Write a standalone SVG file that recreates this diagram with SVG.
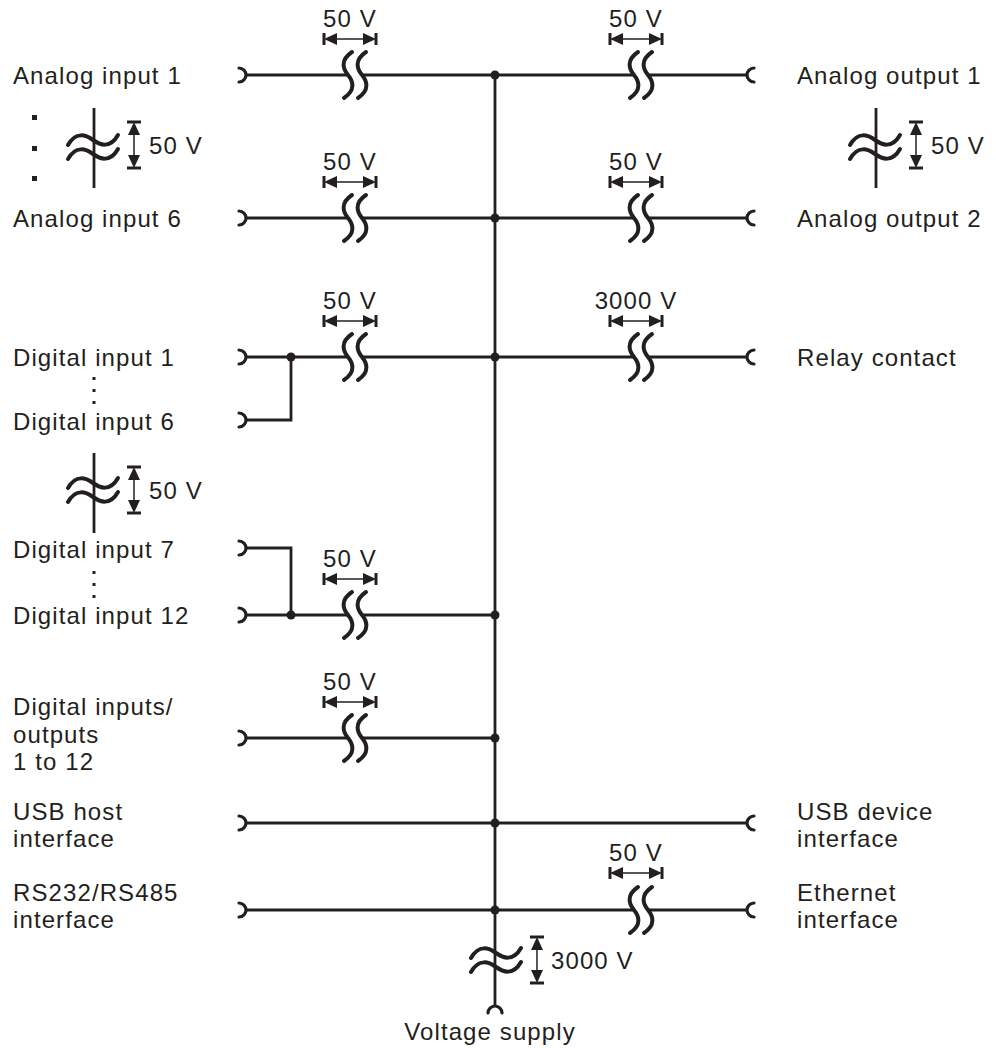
<svg xmlns="http://www.w3.org/2000/svg" width="996" height="1048" viewBox="0 0 996 1048">
<style>
.t{font-family:"Liberation Sans",Arial,sans-serif;font-size:24px;letter-spacing:1.1px;fill:#231f20}
.w{fill:none;stroke:#231f20;stroke-width:2.8}
.c{fill:none;stroke:#231f20;stroke-width:3.2;stroke-linecap:round}
.iso{fill:none;stroke:#231f20;stroke-width:4;stroke-linecap:round}
.d{fill:none;stroke:#231f20;stroke-width:1.5}
.bar{fill:none;stroke:#231f20;stroke-width:3}
.dot{fill:#231f20}
</style>
<defs>
<path id="wv" class="iso" d="M4,-23 C-8,-15 -5,-6 0,0 C5,6 8,15 -4,23"/>
<path id="tl" class="iso" d="M-25,5 C-17,-9 -7,-5 0,0 C7,5 17,9 25,-5"/>
<g id="hiso"><use href="#wv" x="-2"/><use href="#wv" x="12"/></g>
<g id="vtil"><use href="#tl" y="-7"/><use href="#tl" y="7"/></g>
<g id="hdim">
<line class="d" x1="-20" y1="0" x2="20" y2="0"/>
<line class="bar" x1="-26" y1="-6" x2="-26" y2="6"/>
<line class="bar" x1="26" y1="-6" x2="26" y2="6"/>
<polygon class="dot" points="-26,0 -13,-6 -13,6"/>
<polygon class="dot" points="26,0 13,-6 13,6"/>
</g>
<g id="vdim">
<line class="d" x1="0" y1="-18" x2="0" y2="18"/>
<line class="bar" x1="-7" y1="-23" x2="7" y2="-23"/>
<line class="bar" x1="-7" y1="23" x2="7" y2="23"/>
<polygon class="dot" points="0,-23 -6,-10 6,-10"/>
<polygon class="dot" points="0,23 -6,10 6,10"/>
</g>
<path id="tL" class="c" d="M-7,-7 A7,7 0 0 1 -7,7"/>
<path id="tR" class="c" d="M7,-7 A7,7 0 0 0 7,7"/>
</defs>

<g id="connectors">
<line class="w" x1="495" y1="75" x2="495" y2="1006"/>
<line class="w" x1="246" y1="75" x2="348" y2="75"/>
<line class="w" x1="362" y1="75" x2="634" y2="75"/>
<line class="w" x1="648" y1="75" x2="747" y2="75"/>
<line class="w" x1="246" y1="218" x2="348" y2="218"/>
<line class="w" x1="362" y1="218" x2="634" y2="218"/>
<line class="w" x1="648" y1="218" x2="747" y2="218"/>
<line class="w" x1="246" y1="357" x2="348" y2="357"/>
<line class="w" x1="362" y1="357" x2="634" y2="357"/>
<line class="w" x1="648" y1="357" x2="747" y2="357"/>
<polyline class="w" points="246,420 291,420 291,357"/>
<line class="w" x1="246" y1="615" x2="348" y2="615"/>
<line class="w" x1="362" y1="615" x2="495" y2="615"/>
<polyline class="w" points="246,548 291,548 291,615"/>
<line class="w" x1="246" y1="738" x2="348" y2="738"/>
<line class="w" x1="362" y1="738" x2="495" y2="738"/>
<line class="w" x1="246" y1="823" x2="747" y2="823"/>
<line class="w" x1="246" y1="910" x2="634" y2="910"/>
<line class="w" x1="648" y1="910" x2="747" y2="910"/>
<circle class="dot" cx="495" cy="75" r="4.5"/>
<circle class="dot" cx="495" cy="218" r="4.5"/>
<circle class="dot" cx="495" cy="357" r="4.5"/>
<circle class="dot" cx="495" cy="615" r="4.5"/>
<circle class="dot" cx="495" cy="738" r="4.5"/>
<circle class="dot" cx="495" cy="823" r="4.5"/>
<circle class="dot" cx="495" cy="910" r="4.5"/>
<circle class="dot" cx="291" cy="357" r="4.5"/>
<circle class="dot" cx="291" cy="615" r="4.5"/>
</g>

<g id="isolations">
<use href="#hiso" x="350" y="75"/><use href="#hdim" x="350" y="39"/><text class="t" x="350" y="27" text-anchor="middle">50 V</text>
<use href="#hiso" x="636" y="75"/><use href="#hdim" x="636" y="39"/><text class="t" x="636" y="27" text-anchor="middle">50 V</text>
<use href="#hiso" x="350" y="218"/><use href="#hdim" x="350" y="182"/><text class="t" x="350" y="170" text-anchor="middle">50 V</text>
<use href="#hiso" x="636" y="218"/><use href="#hdim" x="636" y="182"/><text class="t" x="636" y="170" text-anchor="middle">50 V</text>
<use href="#hiso" x="350" y="357"/><use href="#hdim" x="350" y="321"/><text class="t" x="350" y="309" text-anchor="middle">50 V</text>
<use href="#hiso" x="636" y="357"/><use href="#hdim" x="636" y="321"/><text class="t" x="636" y="309" text-anchor="middle">3000 V</text>
<use href="#hiso" x="350" y="615"/><use href="#hdim" x="350" y="579"/><text class="t" x="350" y="567" text-anchor="middle">50 V</text>
<use href="#hiso" x="350" y="738"/><use href="#hdim" x="350" y="702"/><text class="t" x="350" y="690" text-anchor="middle">50 V</text>
<use href="#hiso" x="636" y="910"/><use href="#hdim" x="636" y="873"/><text class="t" x="636" y="861" text-anchor="middle">50 V</text>
<line class="w" x1="94" y1="108" x2="94" y2="188"/><use href="#vtil" x="93" y="147"/><use href="#vdim" x="134" y="145"/><text class="t" x="149" y="154">50 V</text>
<line class="w" x1="94" y1="453" x2="94" y2="533"/><use href="#vtil" x="93" y="490"/><use href="#vdim" x="134" y="490"/><text class="t" x="149" y="499">50 V</text>
<line class="w" x1="876" y1="108" x2="876" y2="188"/><use href="#vtil" x="875" y="147"/><use href="#vdim" x="916" y="145"/><text class="t" x="931" y="154">50 V</text>
<use href="#vtil" x="496" y="960"/><use href="#vdim" x="537" y="960"/><text class="t" x="551" y="969">3000 V</text>
<rect class="dot" x="32" y="115" width="5" height="5"/>
<rect class="dot" x="32" y="146" width="5" height="5"/>
<rect class="dot" x="32" y="176" width="5" height="5"/>
<rect class="dot" x="92.5" y="377" width="3" height="3"/>
<rect class="dot" x="92.5" y="389" width="3" height="3"/>
<rect class="dot" x="92.5" y="401" width="3" height="3"/>
<rect class="dot" x="92.5" y="571" width="3" height="3"/>
<rect class="dot" x="92.5" y="583" width="3" height="3"/>
<rect class="dot" x="92.5" y="595" width="3" height="3"/>
</g>

<g id="analog-input-1"><use href="#tL" x="246" y="75"/><text class="t" x="13" y="84">Analog input 1</text></g>
<g id="analog-input-6"><use href="#tL" x="246" y="218"/><text class="t" x="13" y="227">Analog input 6</text></g>
<g id="digital-input-1"><use href="#tL" x="246" y="357"/><text class="t" x="13" y="366">Digital input 1</text></g>
<g id="digital-input-6"><use href="#tL" x="246" y="420"/><text class="t" x="13" y="430">Digital input 6</text></g>
<g id="digital-input-7"><use href="#tL" x="246" y="548"/><text class="t" x="13" y="558">Digital input 7</text></g>
<g id="digital-input-12"><use href="#tL" x="246" y="615"/><text class="t" x="13" y="624">Digital input 12</text></g>
<g id="digital-io"><use href="#tL" x="246" y="738"/><text class="t" x="13" y="715">Digital inputs/</text><text class="t" x="13" y="743">outputs</text><text class="t" x="13" y="770">1 to 12</text></g>
<g id="usb-host"><use href="#tL" x="246" y="823"/><text class="t" x="13" y="820">USB host</text><text class="t" x="13" y="847">interface</text></g>
<g id="rs232"><use href="#tL" x="246" y="910"/><text class="t" x="13" y="901">RS232/RS485</text><text class="t" x="13" y="928">interface</text></g>
<g id="analog-output-1"><use href="#tR" x="747" y="75"/><text class="t" x="797" y="84">Analog output 1</text></g>
<g id="analog-output-2"><use href="#tR" x="747" y="218"/><text class="t" x="797" y="227">Analog output 2</text></g>
<g id="relay-contact"><use href="#tR" x="747" y="357"/><text class="t" x="797" y="366">Relay contact</text></g>
<g id="usb-device"><use href="#tR" x="747" y="823"/><text class="t" x="797" y="820">USB device</text><text class="t" x="797" y="847">interface</text></g>
<g id="ethernet"><use href="#tR" x="747" y="910"/><text class="t" x="797" y="901">Ethernet</text><text class="t" x="797" y="928">interface</text></g>
<g id="voltage-supply"><path class="c" d="M488,1013 A7,7 0 0 1 502,1013"/><text class="t" x="490" y="1040" text-anchor="middle">Voltage supply</text></g>
</svg>
